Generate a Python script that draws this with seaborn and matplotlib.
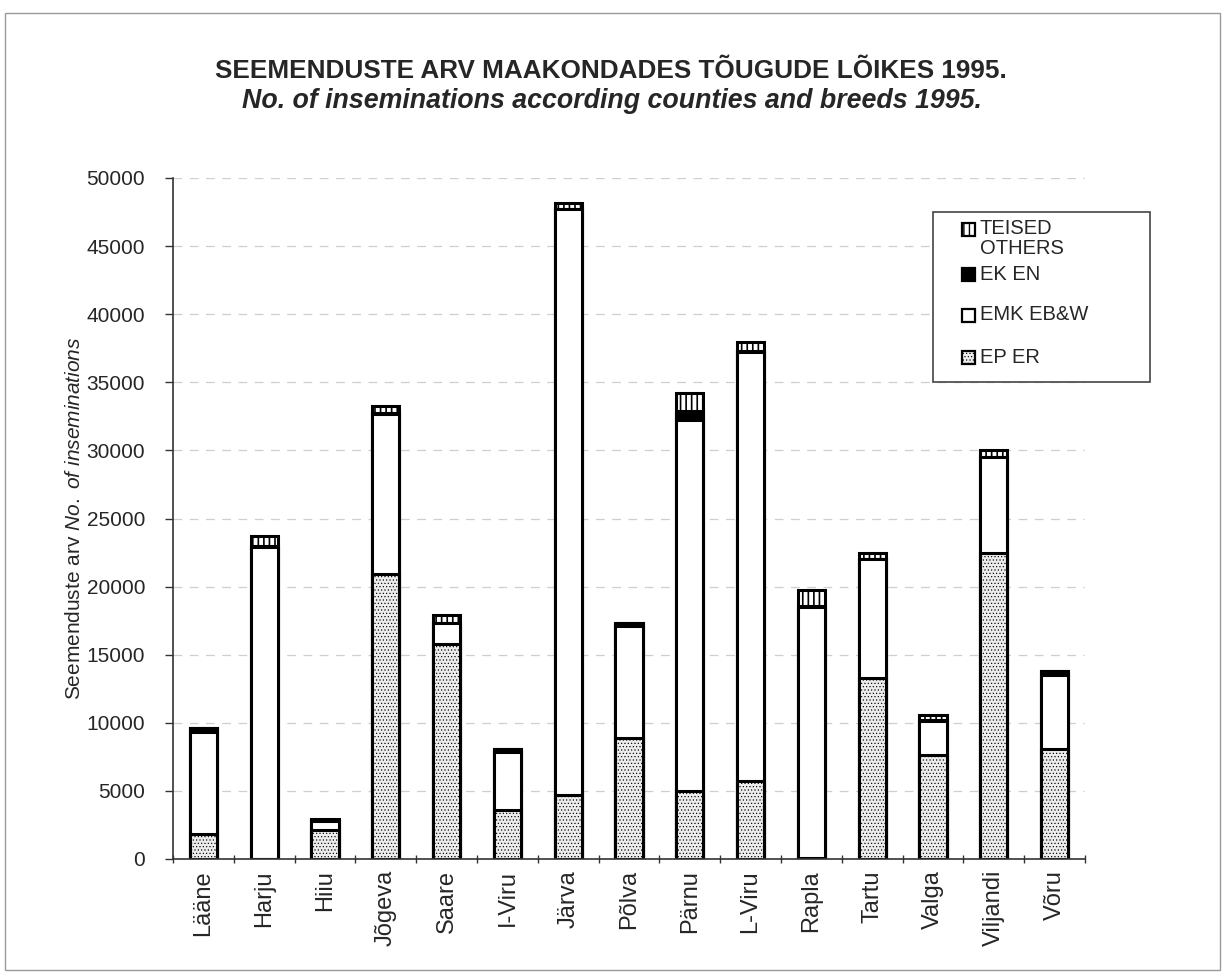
import numpy as np
import pandas as pd
import matplotlib
matplotlib.use("Agg")
import matplotlib.pyplot as plt
import seaborn as sns
from matplotlib.patches import Rectangle
from matplotlib.ticker import MultipleLocator

# Data (inseminations per county and breed, 1995)
counties = ["Lääne", "Harju", "Hiiu", "Jõgeva", "Saare", "I-Viru", "Järva", "Põlva",
            "Pärnu", "L-Viru", "Rapla", "Tartu", "Valga", "Viljandi", "Võru"]
ep_er = [1850, 0, 2100, 20900, 15800, 3600, 4700, 8900, 5000, 5750, 80, 13300, 7600, 22500, 8100]
emk_ebw = [7500, 22900, 700, 11800, 1500, 4250, 43000, 8200, 27200, 31500, 18400, 8700, 2550, 7000, 5400]
ek_en = [250, 100, 100, 50, 50, 200, 50, 250, 680, 50, 100, 50, 50, 50, 300]
teised = [0, 700, 50, 500, 550, 50, 400, 0, 1340, 650, 1150, 450, 350, 450, 0]

legend_labels = ["TEISED", "EK EN", "EMK EB&W", "EP ER"]

df = pd.DataFrame({"county": counties, "EP": ep_er, "EMK": emk_ebw, "EK": ek_en, "TEISED": teised})
df["c_ep"] = df["EP"]
df["c_emk"] = df["c_ep"] + df["EMK"]
df["c_ek"] = df["c_emk"] + df["EK"]
df["c_all"] = df["c_ek"] + df["TEISED"]

sns.set_style("white")
plt.rcParams["font.family"] = ["Liberation Sans", "DejaVu Sans"]
plt.rcParams["mathtext.fontset"] = "custom"
plt.rcParams["mathtext.rm"] = "Liberation Sans"
plt.rcParams["mathtext.it"] = "Liberation Sans:italic"
plt.rcParams["hatch.linewidth"] = 1.2

W, H = 1227, 974
fig = plt.figure(figsize=(W / 100, H / 100), dpi=100)
ax = fig.add_axes([173 / W, 1 - 859 / H, 912 / W, 681 / H])

ep_face = "#ececec"
# (cumulative column, face colour, hatch, hatch linewidth)
layers = [
    ("c_all", "white", "|||", 1.2),
    ("c_ek", "black", None, None),
    ("c_emk", "white", None, None),
    ("c_ep", ep_face, ".....", 0.45),
]
for col, face, hatch, hlw in layers:
    n_before = len(ax.patches)
    sns.barplot(data=df, x="county", y=col, color=face, width=0.45,
                edgecolor="black", linewidth=2.2, saturation=1, ax=ax)
    for p in ax.patches[n_before:]:
        p.set_facecolor(face)
        if hatch:
            p.set_hatch(hatch)
            if hasattr(p, "set_hatch_linewidth"):
                p.set_hatch_linewidth(hlw)

ax.set_xlim(-0.5, len(counties) - 0.5)
ax.set_ylim(0, 50000)
ax.yaxis.set_major_locator(MultipleLocator(5000))
ax.set_axisbelow(True)
ax.yaxis.grid(True, color="#cfcfcf", linestyle=(0, (7, 6)), linewidth=0.9)
ax.xaxis.grid(False)

for side in ["top", "right"]:
    ax.spines[side].set_visible(False)
for side in ["left", "bottom"]:
    ax.spines[side].set_color("#333333")
    ax.spines[side].set_linewidth(1.2)

ax.set_xlabel("")
ax.set_ylabel(r"Seemenduste arv $\mathit{No.\ of\ inseminations}$", fontsize=15, labelpad=2)
ax.tick_params(axis="y", labelsize=15, length=6, width=1, direction="out", left=True,
               color="#333333", pad=14)
ax.tick_params(axis="x", which="major", labelsize=17, length=0, pad=8, labelrotation=90)
ax.set_xticks(np.arange(-0.5, len(counties), 1.0), minor=True)
ax.tick_params(axis="x", which="minor", length=6, width=1, direction="inout", bottom=True,
               color="#333333")

fig.text(611 / W, 1 - 71 / H, "SEEMENDUSTE ARV MAAKONDADES TÕUGUDE LÕIKES 1995.",
         ha="center", va="center", fontsize=18.8, fontweight="bold")
fig.text(612 / W, 1 - 101 / H, "No. of inseminations according counties and breeds 1995.",
         ha="center", va="center", fontsize=19.3, fontweight="bold", style="italic")

# legend box, drawn by hand to match the scanned layout
fig.patches.append(Rectangle((933 / W, 1 - 382 / H), 217 / W, 170 / H, transform=fig.transFigure,
                             facecolor="white", edgecolor="#444444", linewidth=1.2, zorder=5))
legend_style = [("white", "|||", 1.0), ("black", None, None), ("white", None, None),
                (ep_face, ".....", 0.45)]
legend_y = [229, 274, 315, 357]
for label, (face, hatch, hlw), yc in zip(legend_labels, legend_style, legend_y):
    r = Rectangle((962 / W, 1 - (yc + 6.5) / H), 13 / W, 13 / H, transform=fig.transFigure,
                  facecolor=face, edgecolor="black", linewidth=1.6, zorder=6)
    if hatch:
        r.set_hatch(hatch)
        if hasattr(r, "set_hatch_linewidth"):
            r.set_hatch_linewidth(hlw)
    fig.patches.append(r)
    fig.text(980 / W, 1 - yc / H, label, ha="left", va="center", fontsize=14.5, zorder=7)
fig.text(980 / W, 1 - 249 / H, "OTHERS", ha="left", va="center", fontsize=14.5, zorder=7)

# page border of the scanned figure
fig.patches.append(Rectangle((0.004, 0.004), 0.99, 0.983, transform=fig.transFigure,
                             fill=False, edgecolor="#999999", linewidth=1))

fig.savefig("out.png", dpi=100)
